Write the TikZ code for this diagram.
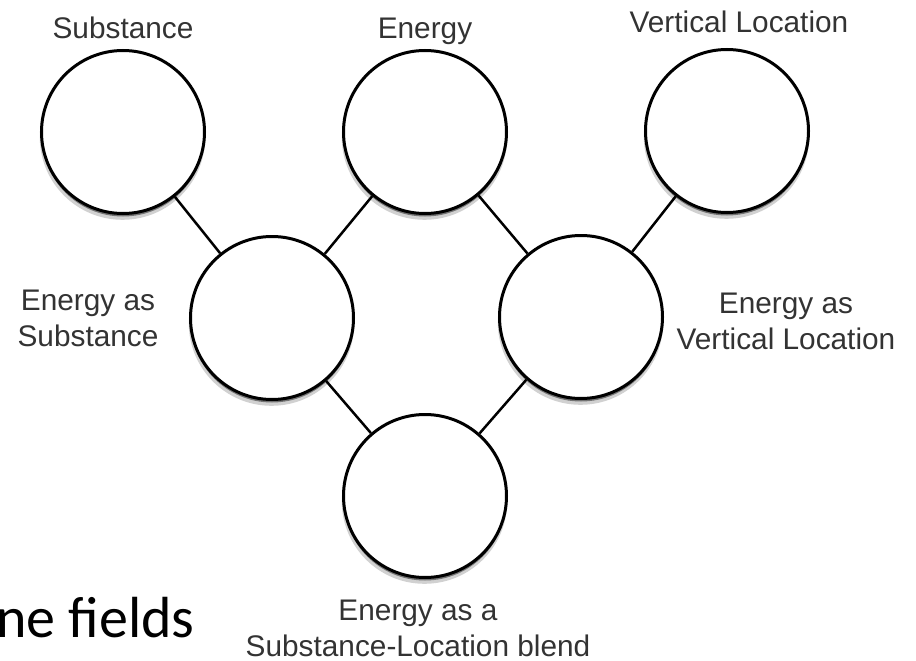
\documentclass[tikz,border=0pt]{standalone}
\usepackage{fontspec}
\setmainfont{Liberation Sans}
\newfontfamily\slidefont{Carlito}
\usetikzlibrary{shadows}

\begin{document}
\begin{tikzpicture}[x=1pt,y=-1pt,
        blob/.style={circle,draw=black,line width=3pt,fill=white,
            minimum size=163pt,inner sep=0pt,
            drop shadow={shadow xshift=-.5pt,shadow yshift=-5pt,
                shadow scale=1.015,opacity=.18,fill=black},
            drop shadow={shadow xshift=0pt,shadow yshift=-3pt,
                opacity=.45,fill=black}},
        lbl/.style={font=\fontsize{29.8}{36}\selectfont,text=black!80,
            align=center,inner sep=0pt},
        link/.style={line width=2.5pt}]
        \useasboundingbox (0,0) rectangle (916,661);

        % top row
        \node[blob] (sub) at (123,132) {};
        \node[blob] (en)  at (425,132) {};
        \node[blob] (vl)  at (727,131) {};
        % blends
        \node[blob] (eas)  at (272,318) {};
        \node[blob] (eavl) at (581,317) {};
        \node[blob] (bl)   at (425,496) {};

        % names
        \node[lbl,anchor=base] (tsub) at (123,39) {Substance};
        \node[lbl,anchor=base] (ten)  at (425,39) {Energy};
        \node[lbl,anchor=base] (tvl)  at (739,33) {Vertical Location};
        \node[lbl] (teas)  at (88,318)  {Energy as\\Substance};
        \node[lbl] (teavl) at (786,321) {Energy as\\Vertical Location};
        \node[lbl] (tbl)   at (418,628) {Energy as a\\Substance-Location blend};

        \draw[link] (sub) -- (eas);
        \draw[link] (en) -- (eas);
        \draw[link] (en) -- (eavl);
        \draw[link] (vl) -- (eavl);
        \draw[link] (eas) -- (bl);
        \draw[link] (eavl) -- (bl);

        % slide text cut at the left edge
        \node[anchor=base west,inner sep=0pt,
              font=\slidefont\fontsize{58}{68}\selectfont] (fields) at (-4,637) {ne fields};
    \end{tikzpicture}
\end{document}
